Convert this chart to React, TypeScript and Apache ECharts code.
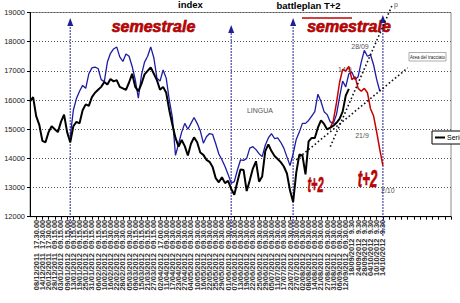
import React, { useEffect, useRef } from 'react';
import * as echarts from 'echarts';

// ---------- data ----------
const tickLabels: string[] = [
  '02/12/2011  17.30.00', '08/12/2011  17.30.00', '14/12/2011  17.30.00', '20/12/2011  17.30.00',
  '28/12/2011  09.15.00', '03/01/2012  09.15.00', '09/01/2012  09.15.00', '13/01/2012  09.15.00',
  '19/01/2012  09.15.00', '25/01/2012  09.15.00', '31/01/2012  09.15.00', '06/02/2012  09.15.00',
  '10/02/2012  09.15.00', '16/02/2012  09.30.00', '22/02/2012  09.30.00', '28/02/2012  09.30.00',
  '05/03/2012  09.30.00', '09/03/2012  09.15.00', '15/03/2012  09.15.00', '21/03/2012  09.15.00',
  '27/03/2012  09.15.00', '02/04/2012  17.00.00', '11/04/2012  09.30.00', '17/04/2012  09.30.00',
  '23/04/2012  09.30.00', '27/04/2012  09.30.00', '04/05/2012  09.30.00', '10/05/2012  09.30.00',
  '16/05/2012  09.30.00', '22/05/2012  09.30.00', '25/05/2012  09.30.00', '29/05/2012  09.30.00',
  '01/06/2012  09.30.00', '07/06/2012  09.30.00', '13/06/2012  09.30.00', '19/06/2012  09.30.00',
  '22/06/2012  09.30.00', '25/06/2012  09.30.00', '29/06/2012  09.30.00', '05/07/2012  09.30.00',
  '11/07/2012  09.30.00', '17/07/2012  09.30.00', '23/07/2012  09.30.00', '27/07/2012  09.30.00',
  '02/08/2012  09.30.00', '08/08/2012  09.30.00', '14/08/2012  09.30.00', '21/08/2012  09.30.00',
  '27/08/2012  09.30.00', '31/08/2012  09.30.00', '06/09/2012  09.30.00', '12/09/2012  09.30.00',
  '18/09/2012  9.30', '24/09/2012  9.30', '28/09/2012  9.30', '04/10/2012  9.30',
  '10/10/2012  9.30', '14/10/2012  9.30',
];
const EMPTY_TICKS = 11; // unlabeled ticks after the last label
const SUB_STEPS = 2; // samples per labelled tick

const serie1: number[] = [
  15950, 16100, 15450, 15150, 14600, 14550, 14900, 15100, 15000, 14900,
  15250, 15500, 14900, 14550, 15100, 15250, 15200, 15650, 15850, 15800,
  16100, 16250, 16350, 16450, 16620, 16530, 16720, 16640, 16680, 16450,
  16400, 16350, 16600, 16900, 16450, 16300, 16550, 16880, 17000, 17120,
  16900, 16680, 16350, 16450, 16250, 15650, 15150, 14700, 14400, 14630,
  14420, 14100, 14500, 14720, 14550, 14200, 14120, 13950, 13880, 13700,
  13320, 13180, 13350, 13150, 13230, 12950, 12750, 13200, 13620, 13600,
  12880, 13250, 13650, 13900, 13200, 13380, 14250, 14480, 14250, 14080,
  13980, 13870, 13720, 13480, 12900, 12500, 13500, 14130, 14100, 13450,
  14580, 14700, 14700, 15050, 15300, 15180, 14990, 15050, 15120, 15220,
  15350, 15600, 16150, 16380,
];

const BLUE_START = 13;
const blueLine: number[] = [
  14750, 15650, 16050, 16300, 16500, 16400, 16900, 17100, 17130, 17080,
  16700, 16630, 17300, 17600, 17750, 17820, 17480, 17320, 17580, 17500,
  17150, 16700, 16060, 16850, 17300, 17500, 17820, 17450, 16750, 16650,
  17030, 16750, 16000, 15400, 14100, 14500, 14900, 15200, 15000, 15200,
  15400, 15200, 14950, 14520, 14740, 14850, 14820, 14500, 14150, 13950,
  13720, 13450, 13150, 13200, 13600, 13945, 13930, 14000, 14350, 14400,
  14300, 14160, 14060, 14450, 14700, 14850, 14680, 14700, 14550, 14350,
  14050, 13750, 14150, 14650, 14900, 15200, 15200, 15300, 15450, 15600,
  16200, 15950, 15600, 15500, 15250, 15200, 15500, 16100, 16650, 16450,
  16900, 16950, 16700, 16800, 17300, 17700, 17500, 17550, 17200, 16700, 16300,
];

const RED_START = 97;
const redLine: number[] = [
  15050, 15300, 15900, 16600, 17050, 17000, 17150, 16700, 16800, 16400,
  16300, 16400, 16250, 15700, 15450, 14900, 14300, 13750,
];

const markerIndex = [13, 65, 85, 114];
const markerTop = [18674, 18434, 18674, 18777];
const MARKER_BOTTOM = 11350;

const trendShallow: [number, number][] = [[86, 13950], [122, 17100]];
const trendSteep: [number, number][] = [[97, 14400], [117, 19250]];

const Y_MIN = 12000;
const Y_MAX = 19000;
const Y_STEP = 1000;

// ---------- component ----------
const FONT = '"Liberation Sans", Arial, sans-serif';
const RED = '#c40000';
const NAVY = '#1e1e96';

function pad(values: number[], start: number): (number | string)[] {
  const out: (number | string)[] = [];
  for (let i = 0; i < start; i++) out.push('-');
  return out.concat(values);
}

function txt(text: string, x: number, y: number, font: string, fill: string, align = 'left', extra: any = {}) {
  return {
    type: 'text',
    x,
    y,
    silent: true,
    ...extra,
    style: {
      text,
      font,
      fill,
      textAlign: align,
      align,
      textVerticalAlign: 'middle',
      verticalAlign: 'middle',
      ...(extra.style || {}),
    },
  };
}

export default function App() {
  const ref = useRef<HTMLDivElement>(null);
  useEffect(() => {
    if (!ref.current) return;
    const chart = echarts.init(ref.current, undefined, { renderer: 'svg' });

    const categories: string[] = [];
    const totalTicks = tickLabels.length + EMPTY_TICKS;
    for (let k = 0; k < totalTicks; k++) {
      categories.push(k < tickLabels.length ? tickLabels[k] : '');
      if (k < totalTicks - 1) for (let s = 1; s < SUB_STEPS; s++) categories.push('');
    }

    const wordArt = {
      fill: RED,
      stroke: '#5a0000',
      lineWidth: 0.6,
      shadowColor: 'rgba(40,0,0,0.7)',
      shadowOffsetX: 1.5,
      shadowOffsetY: 1.5,
      shadowBlur: 0,
    };

    const markerSeries = markerIndex.map((idx, k) => ({
      type: 'line',
      data: [
        { value: [idx, MARKER_BOTTOM], symbol: 'none' },
        { value: [idx, markerTop[k]], symbol: 'triangle', symbolSize: [6, 8] },
      ],
      symbol: 'triangle',
      showSymbol: true,
      showAllSymbol: true,
      clip: false,
      silent: true,
      z: 1,
      lineStyle: { color: NAVY, width: 1.3, type: [1.3, 1.7] },
      itemStyle: { color: NAVY },
    }));

    const trend = (d: [number, number][]) => ({
      type: 'line',
      data: d,
      symbol: 'none',
      clip: false,
      silent: true,
      z: 5,
      lineStyle: { color: '#111', width: 1.6, type: [1.6, 2.4] },
    });

    chart.setOption({
      animation: false,
      backgroundColor: '#fff',
      textStyle: { fontFamily: FONT },
      grid: {
        left: 30,
        right: 9,
        top: 12.5,
        bottom: 86.3,
        show: true,
        borderColor: '#8a8a8a',
        borderWidth: 1,
        containLabel: false,
        outerBoundsMode: 'none',
      },
      legend: {
        data: [{ name: 'Serie1', icon: 'rect' }],
        left: 432,
        top: 131,
        orient: 'vertical',
        padding: [3, 2, 3, 3],
        borderColor: '#000',
        borderWidth: 1,
        backgroundColor: '#fff',
        itemWidth: 10,
        itemHeight: 2,
        itemGap: 2,
        itemStyle: { color: '#000' },
        textStyle: { fontSize: 7, color: '#000', fontFamily: FONT, padding: [0, 0, 0, -3] },
      },
      xAxis: {
        type: 'category',
        data: categories,
        boundaryGap: false,
        axisLine: { show: true, lineStyle: { color: '#000', width: 1 } },
        axisTick: { show: true, interval: SUB_STEPS - 1, length: 3, lineStyle: { color: '#000' } },
        axisLabel: {
          interval: SUB_STEPS - 1,
          rotate: 90,
          fontSize: 7.5,
          fontWeight: 'bold',
          color: '#333',
          margin: 3,
          fontFamily: FONT,
        },
        splitLine: { show: false },
      },
      yAxis: {
        type: 'value',
        min: Y_MIN,
        max: Y_MAX,
        interval: Y_STEP,
        axisLine: { show: true, lineStyle: { color: '#000', width: 1 } },
        axisTick: { show: true, length: 3, lineStyle: { color: '#000' } },
        axisLabel: {
          fontSize: 7.5,
          color: '#222',
          margin: 5,
          fontFamily: FONT,
          formatter: (v: number) => String(v),
        },
        splitLine: { show: true, lineStyle: { color: '#555', width: 1, type: [1, 2] } },
      },
      series: [
        ...markerSeries,
        {
          name: 'Serie2',
          type: 'line',
          data: pad(blueLine, BLUE_START),
          symbol: 'none',
          z: 3,
          lineStyle: { color: '#1c1ca4', width: 1.3 },
          itemStyle: { color: '#1c1ca4' },
        },
        {
          name: 'Serie3',
          type: 'line',
          data: pad(redLine, RED_START),
          symbol: 'none',
          z: 3,
          lineStyle: { color: RED, width: 1.5 },
          itemStyle: { color: RED },
        },
        {
          name: 'Serie1',
          type: 'line',
          data: serie1,
          symbol: 'none',
          z: 4,
          lineStyle: { color: '#000', width: 2 },
          itemStyle: { color: '#000' },
        },
        trend(trendShallow),
        trend(trendSteep),
      ],
      graphic: [
        txt('index', 190.5, 4.5, `bold 9.5px ${FONT}`, '#000', 'center'),
        txt('battleplan T+2', 308.5, 5, `bold 9.5px ${FONT}`, '#000', 'center'),
        txt('semestrale', 153.5, 26, `italic bold 16px ${FONT}`, RED, 'center', { style: wordArt }),
        txt('semestrale', 349, 26, `italic bold 16px ${FONT}`, RED, 'center', { style: wordArt }),
        {
          type: 'line',
          silent: true,
          shape: { x1: 302, y1: 18, x2: 352, y2: 18 },
          style: { stroke: RED, lineWidth: 1.5 },
        },
        txt('t+2', 315.5, 184, `italic bold 22px ${FONT}`, RED, 'center', { scaleX: 0.5, style: wordArt }),
        txt('t+2', 367.5, 178.5, `italic bold 24px ${FONT}`, RED, 'center', { scaleX: 0.55, style: wordArt }),
        txt('LINGUA', 260, 110.5, `7px ${FONT}`, '#555', 'center'),
        txt('28/09', 360, 46.5, `7px ${FONT}`, '#555', 'center'),
        txt('14/9', 338, 69.5, `7px ${FONT}`, '#555', 'left'),
        txt('21/9', 362, 135.5, `7px ${FONT}`, '#555', 'center'),
        txt('2/10', 381, 190.5, `7px ${FONT}`, '#555', 'left'),
        txt('p', 394, 4, `7px ${FONT}`, '#555', 'left'),
        {
          type: 'rect',
          silent: true,
          shape: { x: 409, y: 52.5, width: 37, height: 8.5 },
          style: { fill: '#fff', stroke: '#777', lineWidth: 0.6 },
        },
        txt('Area del tracciato', 427.5, 57, `4.5px ${FONT}`, '#222', 'center'),
      ],
    });
    return () => chart.dispose();
  }, []);

  return (
    <div
      ref={ref}
      style={{ position: 'absolute', left: 0, top: 0, width: 460, height: 303, background: '#fff' }}
    />
  );
}
